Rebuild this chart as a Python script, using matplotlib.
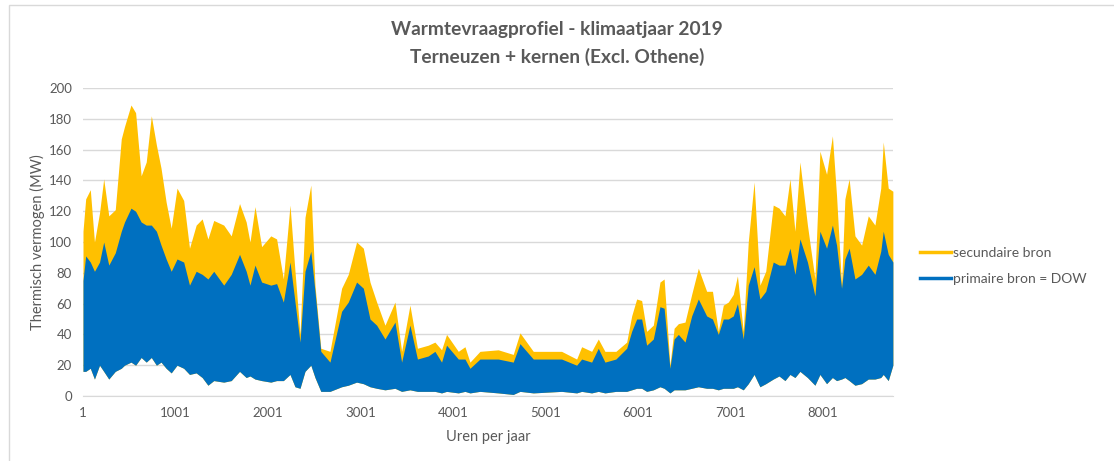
import matplotlib.pyplot as plt
from matplotlib.lines import Line2D
from matplotlib.patches import Rectangle
import numpy as np

# hour of the year at local peaks
hours = [1, 30, 80, 125, 180, 225, 280, 350, 415, 450, 520, 570, 630, 685, 740,
         795, 845, 900, 955, 1018, 1090, 1153, 1225, 1290, 1352, 1415, 1523, 1604,
         1694, 1766, 1807, 1861, 1933, 2032, 2095, 2168, 2240, 2294, 2348, 2402,
         2465, 2510, 2573, 2672, 2798, 2870, 2960, 3033, 3105, 3177, 3267, 3375,
         3447, 3537, 3618, 3735, 3807, 3879, 3933, 4060, 4132, 4186, 4294, 4492,
         4654, 4727, 4871, 5177, 5340, 5394, 5502, 5574, 5646, 5764, 5881, 5935,
         5989, 6043, 6097, 6169, 6241, 6286, 6349, 6394, 6440, 6512, 6584, 6656,
         6746, 6809, 6872, 6926, 6980, 7034, 7079, 7142, 7196, 7259, 7322, 7385,
         7466, 7529, 7593, 7647, 7701, 7755, 7836, 7917, 7971, 8043, 8106, 8151,
         8205, 8241, 8287, 8350, 8422, 8494, 8566, 8629, 8656, 8710, 8760]

# total demand (secundaire bron line top), MW
total_peak = [107, 128, 134, 100, 119, 141, 117, 121, 167, 175, 189, 184, 143, 152, 182,
              163, 148, 126, 109, 135, 127, 96, 111, 115, 102, 114, 111, 104,
              125, 113, 100, 123, 97, 104, 102, 76, 124, 81, 40, 116,
              137, 72, 31, 29, 70, 79, 100, 96, 74, 61, 46, 61,
              29, 59, 31, 33, 35, 30, 40, 29, 32, 22, 29, 30,
              27, 41, 29, 29, 24, 32, 29, 37, 29, 29, 35, 52,
              63, 62, 42, 46, 74, 76, 20, 44, 47, 48, 66, 83,
              68, 68, 42, 59, 61, 66, 78, 42, 100, 139, 72, 81,
              124, 122, 117, 141, 107, 152, 111, 76, 159, 144, 169, 130,
              72, 128, 141, 104, 98, 117, 111, 135, 165, 135, 133]

# primaire bron = DOW, upper values
primary_peak = [75, 91, 87, 81, 87, 100, 85, 93, 107, 113, 122, 120, 113, 111, 111,
                107, 98, 89, 81, 89, 87, 72, 81, 79, 76, 81, 72, 79,
                92, 81, 72, 85, 74, 72, 73, 61, 87, 61, 35, 81,
                94, 68, 29, 22, 55, 61, 74, 70, 50, 46, 37, 48,
                22, 46, 24, 26, 29, 22, 33, 24, 24, 18, 24, 24,
                22, 34, 24, 24, 20, 24, 22, 31, 22, 24, 31, 42,
                50, 50, 33, 37, 58, 57, 18, 37, 40, 35, 52, 63,
                52, 50, 40, 50, 50, 52, 60, 37, 72, 84, 63, 68,
                87, 85, 85, 96, 79, 102, 87, 65, 107, 96, 111, 98,
                70, 89, 96, 76, 79, 85, 79, 94, 107, 92, 87]

# primaire bron = DOW, lower values (daily minimum)
primary_low = [16, 16, 18, 11, 20, 16, 11, 16, 18, 20, 22, 20, 25, 22, 25,
               20, 22, 18, 15, 20, 18, 14, 15, 12, 7, 10, 9, 10,
               16, 12, 13, 11, 10, 9, 10, 10, 14, 6, 5, 16,
               20, 12, 3, 3, 6, 7, 9, 8, 6, 5, 4, 5,
               3, 4, 3, 3, 3, 2, 3, 2, 3, 2, 3, 2,
               1, 3, 2, 3, 2, 3, 2, 3, 2, 3, 3, 4,
               5, 5, 3, 4, 6, 5, 2, 4, 4, 4, 5, 6,
               5, 5, 4, 5, 5, 5, 6, 4, 8, 14, 6, 8,
               11, 13, 10, 14, 12, 16, 12, 7, 14, 8, 12, 10,
               11, 12, 10, 7, 8, 11, 11, 12, 14, 10, 20]

yellow = '#FFC000'
blue = '#0070C0'
grey_text = '#595959'
font = 'Lato'

fig = plt.figure(figsize=(11.14, 4.61), dpi=100)
ax = fig.add_axes([0.0745, 0.141, 0.727, 0.668])

ax.fill_between(hours, primary_low, total_peak, color=yellow, linewidth=0)
ax.fill_between(hours, primary_low, primary_peak, color=blue, linewidth=0)

ax.set_xlim(1, 8760)
ax.set_ylim(0, 200)
ax.set_yticks(np.arange(0, 201, 20))
ax.set_xticks([1, 1001, 2001, 3001, 4001, 5001, 6001, 7001, 8001])
ax.grid(axis='y', color='#d9d9d9', linewidth=1)
ax.set_axisbelow(True)
for s in ['top', 'right', 'left']:
    ax.spines[s].set_visible(False)
ax.spines['bottom'].set_color('#d9d9d9')
ax.tick_params(length=0, labelsize=9.5, labelcolor=grey_text, pad=8)
for lbl in ax.get_xticklabels() + ax.get_yticklabels():
    lbl.set_fontfamily(font)

ax.set_xlabel('Uren per jaar', fontsize=10.5, color=grey_text, family=font, labelpad=8)
ax.set_ylabel('Thermisch vermogen (MW)', fontsize=10.5, color=grey_text, family=font, labelpad=3)

fig.text(0.5, 0.935, 'Warmtevraagprofiel - klimaatjaar 2019', ha='center', va='center',
         fontsize=13.8, fontweight='bold', color=grey_text, family=font)
fig.text(0.5, 0.876, 'Terneuzen + kernen (Excl. Othene)', ha='center', va='center',
         fontsize=13.8, fontweight='bold', color=grey_text, family=font)

handles = [Line2D([], [], color=yellow, linewidth=2.5),
           Line2D([], [], color=blue, linewidth=2.5)]
leg = fig.legend(handles, ['secundaire bron', 'primaire bron = DOW'],
                 loc='center left', bbox_to_anchor=(0.826, 0.423), frameon=False,
                 handlelength=2.2, handletextpad=0.15, labelspacing=1.05,
                 borderaxespad=0, borderpad=0,
                 prop={'family': font, 'size': 10})
for t in leg.get_texts():
    t.set_color(grey_text)

# outer chart border
fig.patches.append(Rectangle((0.008, -0.05), 1.1, 1.04, transform=fig.transFigure,
                             fill=False, edgecolor='#d9d9d9', linewidth=1))

fig.savefig('out.png', dpi=100)
